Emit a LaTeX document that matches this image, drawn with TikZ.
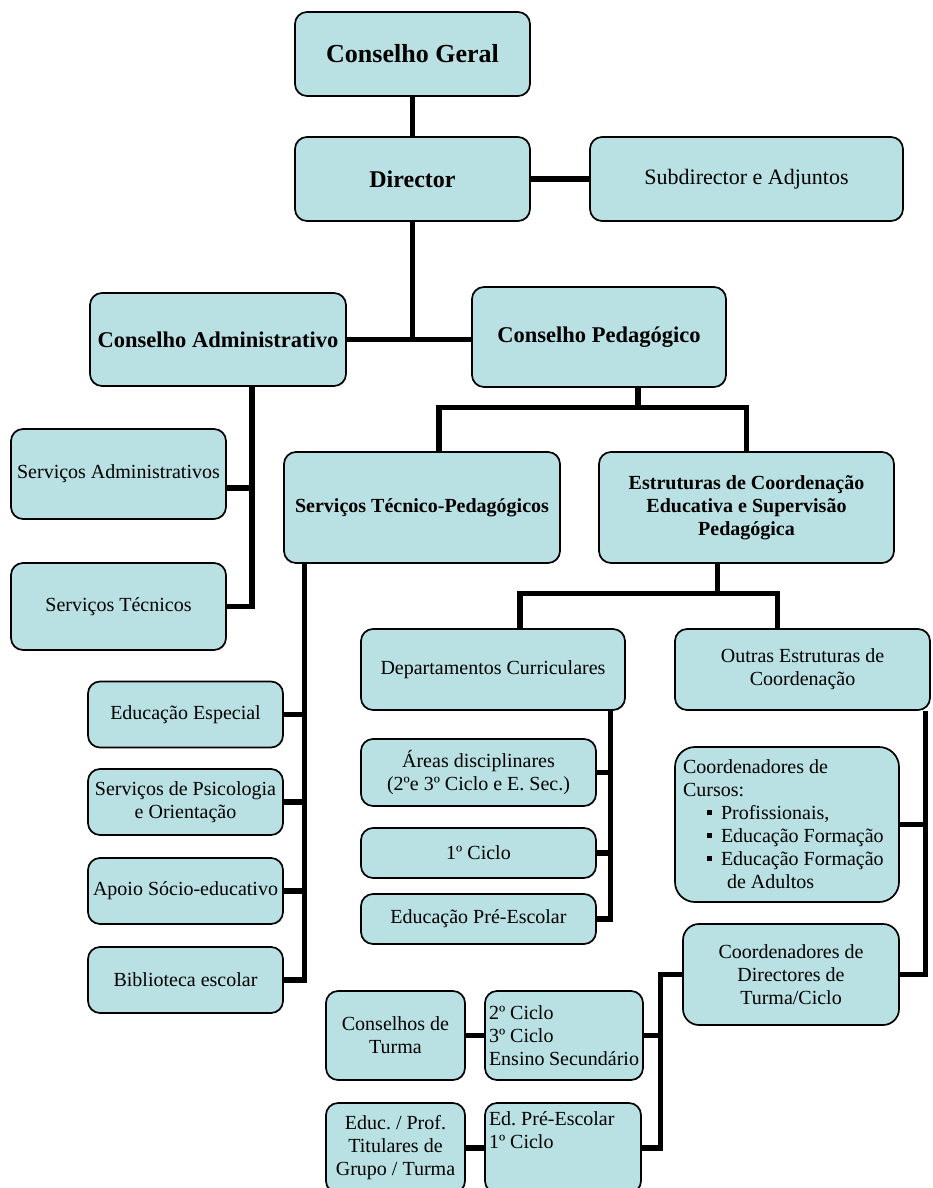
\documentclass[tikz,border=0pt]{standalone}
\usepackage{fontspec}
\setmainfont{Liberation Serif}
\frenchspacing
\usetikzlibrary{calc}
\definecolor{orgInk}{HTML}{000000}
\definecolor{orgFill}{HTML}{B9E0E3}
\newcommand{\sqb}{\rule[0.22em]{5pt}{5pt}}
\tikzset{
  box/.style   ={draw=orgInk,line width=1.7pt,rounded corners=12pt,fill=orgFill,
                 inner sep=2pt,align=center,font=\fontsize{20}{23}\selectfont},
  hbox/.style  ={box,font=\fontsize{20}{23}\selectfont\bfseries},
  lbox/.style  ={box,align=flush left,inner xsep=4pt},
  sz/.style 2 args={minimum width=#1pt,minimum height=#2pt},
  conn/.style  ={orgInk,line width=5.2pt,line join=miter},
}
\begin{document}
\begin{tikzpicture}[x=1pt,y=-1pt]
\useasboundingbox (0,0) rectangle (932,1188);
\clip (0,0) rectangle (932,1188);

% top of the chart
\node[hbox,sz={235}{84},font=\fontsize{26}{30}\selectfont\bfseries] (cg) at (412.5,54) {Conselho Geral};
\node[hbox,sz={235}{84},font=\fontsize{24}{28}\selectfont\bfseries] (dir) at (412.5,179) {Director};
\node[box,sz={313}{84},font=\fontsize{22}{26}\selectfont] (sub) at (746.5,179) {Subdirector e Adjuntos};
\node[hbox,sz={256}{93},font=\fontsize{22.5}{26}\selectfont\bfseries] (adm) at (218,339.5) {Conselho Administrativo};
\node[hbox,sz={254}{100},font=\fontsize{22.5}{26}\selectfont\bfseries] (ped) at (599,337) {Conselho Pedagógico};

% administrative services
\node[box,sz={215}{90}] (sadm) at (118.5,474) {Serviços Administrativos};
\node[box,sz={215}{87}] (stec) at (118.5,606.5) {Serviços Técnicos};

% pedagogic side
\node[hbox,sz={276}{111}] (stp) at (422,507.5) {Serviços Técnico-Pedagógicos};
\node[hbox,sz={295}{111}] (est) at (746.5,507.5) {Estruturas de Coordenação\\Educativa e Supervisão\\Pedagógica};

\foreach \n/\y/\t in {ee/714.5/{Educação Especial},
                      psic/802/{Serviços de Psicologia\\e Orientação},
                      apoio/891/{Apoio Sócio-educativo},
                      bibl/980/{Biblioteca escolar}}
  \node[box,sz={195}{66}] (\n) at (185.5,\y) {\t};

\node[box,sz={264}{81}] (dept) at (493,669.5) {Departamentos Curriculares};
\node[box,sz={255}{81}] (outras) at (802.5,669.5) {Outras Estruturas de\\Coordenação};

\node[box,sz={235}{67}] (areas) at (478.5,772.5) {Áreas disciplinares\\(2ºe 3º Ciclo e E. Sec.)};
\node[box,sz={235}{50}] (ciclo1) at (478.5,853) {1º Ciclo};
\node[box,sz={235}{50}] (pre) at (478.5,919) {Educação Pré-Escolar};

\node[lbox,sz={224}{155},text width=208pt,inner xsep=8pt,rounded corners=20pt] (cursos) at (787,824.5)
  {Coordenadores de\\Cursos:\\
   \hspace*{24pt}\sqb\hspace{9pt}Profissionais,\\
   \hspace*{24pt}\sqb\hspace{9pt}Educação Formação\\
   \hspace*{24pt}\sqb\hspace{9pt}Educação Formação\\
   \hspace*{44pt}de Adultos};
\node[box,sz={216}{101},rounded corners=16pt] (dirc) at (791,974.5) {Coordenadores de\\Directores de\\Turma/Ciclo};

% class level
\node[lbox,sz={158}{89},text width=150pt] (ciclos) at (564,1035.5) {2º Ciclo\\3º Ciclo\\Ensino Secundário};
\node[box,sz={139}{89}] (ct) at (395.5,1035.5) {Conselhos de\\Turma};
\node[lbox,sz={156}{90},text width=148pt] (edpre) at (563,1148) {Ed. Pré-Escolar\\1º Ciclo\\[13pt]\mbox{}};
\node[box,sz={139}{90}] (educ) at (395.5,1148) {Educ. / Prof.\\Titulares de\\Grupo / Turma};

% connectors
\draw[conn] (cg.south) -- (dir.north);
\draw[conn] (dir.east) -- (sub.west);
\draw[conn] (dir.south) -- (dir.south |- adm.east);
\draw[conn] (adm.east) -- (adm.east -| ped.west);

\coordinate (admbus) at ($(adm.south)+(34,0)$);
\coordinate (sadmtap) at ($(sadm.east)+(0,14)$);
\draw[conn] (admbus) |- (stec.east);
\draw[conn] (sadmtap) -- (sadmtap -| admbus);

\coordinate (pedbus) at ($(ped.south)+(39,20)$);
\coordinate (stptop) at ($(stp.north)+(17,0)$);
\draw[conn] (ped.south -| pedbus) -- (pedbus);
\draw[conn] (stptop) |- (est.north |- pedbus) -- (est.north);

\coordinate (estbus) at ($(est.south)+(-29,30)$);
\coordinate (depttop) at ($(dept.north)+(27,0)$);
\coordinate (outtop) at ($(outras.north)+(-25,0)$);
\draw[conn] (est.south -| estbus) -- (estbus);
\draw[conn] (depttop) |- (outtop |- estbus) -- (outtop);

\coordinate (stpbus) at ($(stp.south west)+(21,0)$);
\foreach \n in {ee,psic,apoio}
  \draw[conn] (\n.east) -- (\n.east -| stpbus);
\draw[conn] (stpbus) |- (bibl.east);

\coordinate (deptbus) at ($(dept.south east)+(-15,0)$);
\foreach \n in {areas,ciclo1}
  \draw[conn] (\n.east) -- (\n.east -| deptbus);
\draw[conn] (deptbus) |- (pre.east);

\coordinate (outbus) at ($(outras.south east)+(-5,0)$);
\draw[conn] (cursos.east) -- (cursos.east -| outbus);
\draw[conn] (outbus) |- (dirc.east);

\coordinate (dircbus) at ($(dirc.west)+(-22,0)$);
\draw[conn] (dirc.west) -- (dircbus) |- (edpre.east);
\draw[conn] (ciclos.east) -- (ciclos.east -| dircbus);
\draw[conn] (ct.east) -- (ciclos.west);
\draw[conn] (educ.east) -- (edpre.west);
\end{tikzpicture}
\end{document}
